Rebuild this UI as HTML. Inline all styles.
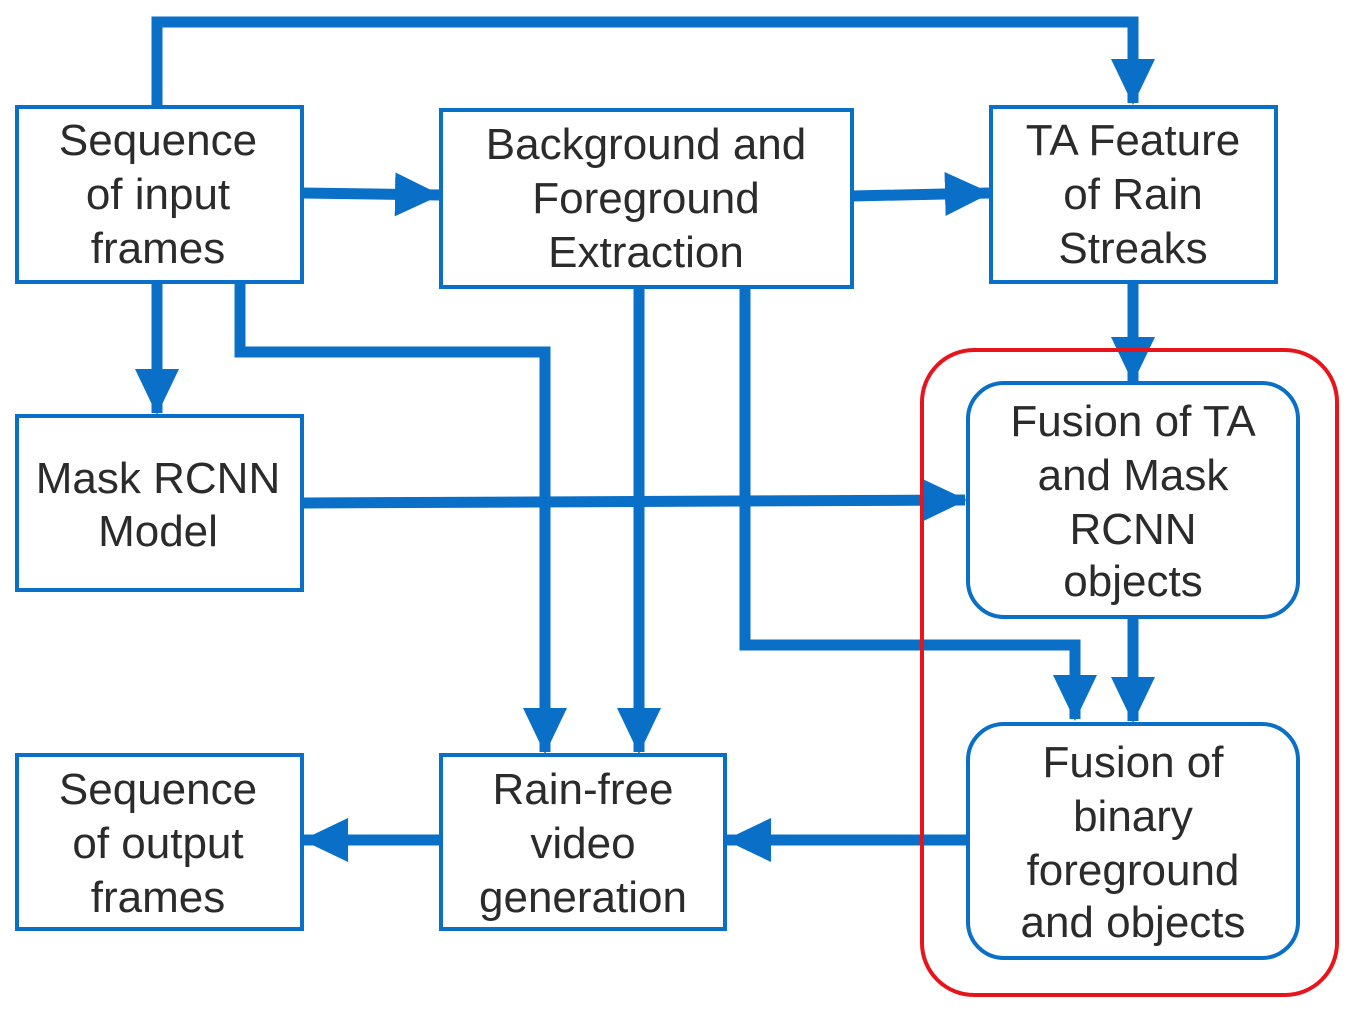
<!DOCTYPE html>
<html><head><meta charset="utf-8"><style>html,body{margin:0;padding:0;background:#fff}svg{display:block}text{font-family:"Liberation Sans",Arial,sans-serif;font-size:44px;fill:#2b2b2b;text-anchor:middle}</style></head><body>
<svg width="1356" height="1015" viewBox="0 0 1356 1015">
<defs><marker id="a" markerUnits="userSpaceOnUse" markerWidth="46" markerHeight="44" refX="44" refY="22" orient="auto"><path d="M0,0 L46,22 L0,44 Z" fill="#0a6fc6"/></marker></defs>
<g fill="none" stroke="#0a6fc6" stroke-width="11">
<polyline points="157,107 157,22 1133,22 1133,103" marker-end="url(#a)"/>
<line x1="302" y1="193" x2="439" y2="195" marker-end="url(#a)"/>
<line x1="852" y1="196" x2="989" y2="193" marker-end="url(#a)"/>
<line x1="157" y1="282" x2="157" y2="413" marker-end="url(#a)"/>
<polyline points="240,282 240,352 545,352 545,752" marker-end="url(#a)"/>
<line x1="639" y1="287" x2="639" y2="752" marker-end="url(#a)"/>
<polyline points="745,287 745,645 1075,645 1075,719" marker-end="url(#a)"/>
<line x1="302" y1="503" x2="965" y2="500" marker-end="url(#a)"/>
<line x1="1133" y1="282" x2="1133" y2="381" marker-end="url(#a)"/>
<line x1="1133" y1="617" x2="1133" y2="721" marker-end="url(#a)"/>
<line x1="968" y1="840" x2="727" y2="840" marker-end="url(#a)"/>
<line x1="441" y1="840" x2="304" y2="840" marker-end="url(#a)"/>
</g>
<g fill="#fff" stroke="#0a6fc6" stroke-width="4">
<rect x="17" y="107" width="285" height="175"/>
<rect x="441" y="110" width="411" height="177"/>
<rect x="991" y="107" width="285" height="175"/>
<rect x="17" y="416" width="285" height="174"/>
<rect x="968" y="383" width="330" height="234" rx="36"/>
<rect x="968" y="724" width="330" height="234" rx="36"/>
<rect x="441" y="755" width="284" height="174"/>
<rect x="17" y="755" width="285" height="174"/>
</g>
<rect x="922" y="350" width="415" height="645" rx="52" fill="none" stroke="#e8141c" stroke-width="4"/>
<text x="158" y="155">Sequence</text><text x="158" y="209">of input</text><text x="158" y="263">frames</text>
<text x="646" y="159">Background and</text><text x="646" y="213">Foreground</text><text x="646" y="267">Extraction</text>
<text x="1133" y="155">TA Feature</text><text x="1133" y="209">of Rain</text><text x="1133" y="263">Streaks</text>
<text x="158" y="493">Mask RCNN</text><text x="158" y="546">Model</text>
<text x="1133" y="436">Fusion of TA</text><text x="1133" y="490">and Mask</text><text x="1133" y="544">RCNN</text><text x="1133" y="596">objects</text>
<text x="1133" y="777">Fusion of</text><text x="1133" y="831">binary</text><text x="1133" y="885">foreground</text><text x="1133" y="937">and objects</text>
<text x="583" y="804">Rain-free</text><text x="583" y="858">video</text><text x="583" y="912">generation</text>
<text x="158" y="804">Sequence</text><text x="158" y="858">of output</text><text x="158" y="912">frames</text>
</svg>
</body></html>
